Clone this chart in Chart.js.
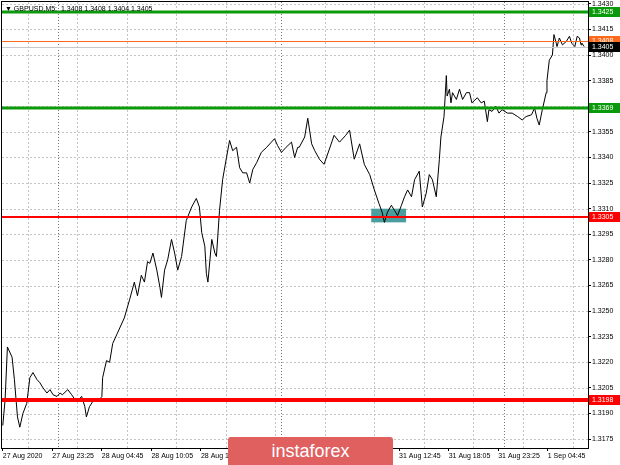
<!DOCTYPE html>
<html>
<head>
<meta charset="utf-8">
<script src="https://cdn.jsdelivr.net/npm/chart.js@4"></script>
<style>
  body { margin: 0; background: #fff; }
  #wrap { position: relative; width: 620px; height: 465px; }
  #logo {
    position: absolute; left: 228px; top: 437px; width: 165px; height: 28px;
    background: #e05f5f; border-radius: 3px 3px 0 0; color: #fff;
    font: 18px "Liberation Sans", sans-serif; text-align: center; line-height: 28px;
  }
</style>
</head>
<body>
<div id="wrap"><canvas id="chart"></canvas><div id="logo">instaforex</div></div>
<script>
// GBPUSD M5, bar index from the first bar on screen and the close
const bars = [0, 3, 6, 12, 15, 19, 22, 26, 31, 35, 39, 44, 48, 52, 57, 61, 65, 70, 74, 77, 84, 89, 95, 102, 106, 108, 112, 119, 123, 128, 129, 134, 138, 142, 148,
  157, 164, 170, 174, 179, 183, 187,
  190, 194, 199, 203, 205, 209, 213, 218, 222, 226, 231, 237, 244, 250, 254, 257, 261, 263, 265, 270, 274, 276, 280, 284, 289, 293, 297, 302, 306, 310, 315, 319, 323, 328, 334, 341, 347, 351, 355, 360, 366, 373, 377, 381,
  383, 390, 394, 399, 403, 409, 415, 422, 428, 435, 443, 448, 454, 461, 467, 474, 480, 486, 490, 493, 497, 502, 506, 510, 515, 519, 523, 528, 532, 538, 542, 547, 551, 555, 560, 564, 566,
  570, 573, 574, 577, 579, 581, 586, 590, 594, 599, 603, 606, 613, 618, 622, 626, 628, 632, 637, 641, 645, 652, 658, 665, 671, 676, 683, 687, 690, 693, 697, 702, 703, 706,
  710, 712, 715, 716, 719, 723, 728, 732, 735, 739, 742, 745, 747, 748, 751];
const closes = [1.3183, 1.3198, 1.3229, 1.3223, 1.3210, 1.3188, 1.3182, 1.3190, 1.3196, 1.3211, 1.3214, 1.3210, 1.3208, 1.3205, 1.3202, 1.3204, 1.3201, 1.3200, 1.3202, 1.3201, 1.3204, 1.3201, 1.3197, 1.3200, 1.3194, 1.3188, 1.3194, 1.3199, 1.3197, 1.3200, 1.3211, 1.3221, 1.3220, 1.3231, 1.3237,
  1.3246, 1.3257, 1.3267, 1.3259, 1.3271, 1.3267, 1.3279,
  1.3278, 1.3284, 1.3274, 1.3264, 1.3258, 1.3274, 1.3280, 1.3292, 1.3284, 1.3274, 1.3282, 1.3303, 1.3311, 1.3316, 1.3311, 1.3296, 1.3288, 1.3272, 1.3267, 1.3292, 1.3284, 1.3282, 1.3309, 1.3327, 1.3340, 1.3350, 1.3344, 1.3346, 1.3334, 1.3331, 1.3331, 1.3325, 1.3333, 1.3337, 1.3343, 1.3346, 1.3349, 1.3351, 1.3347, 1.3343, 1.3346, 1.3349, 1.3340, 1.3346,
  1.3346, 1.3352, 1.3363, 1.3348, 1.3344, 1.3339, 1.3336, 1.3345, 1.3353, 1.3349, 1.3353, 1.3356, 1.3339, 1.3348, 1.3336, 1.3330, 1.3321, 1.3313, 1.3308, 1.3302, 1.3308, 1.3312, 1.3309, 1.3306, 1.3312, 1.3317, 1.3321, 1.3317, 1.3327, 1.3332, 1.3311, 1.3319, 1.3330, 1.3327, 1.3317, 1.3339, 1.3352,
  1.3364, 1.3388, 1.3376, 1.3380, 1.3372, 1.3378, 1.3374, 1.3380, 1.3374, 1.3378, 1.3378, 1.3372, 1.3375, 1.3372, 1.3373, 1.3361, 1.3368, 1.3367, 1.3370, 1.3366, 1.3368, 1.3366, 1.3366, 1.3364, 1.3362, 1.3364, 1.3365, 1.3369, 1.3363, 1.3359, 1.3368, 1.3378, 1.3385, 1.3397,
  1.3400, 1.3412, 1.3407, 1.3405, 1.3410, 1.3406, 1.3408, 1.3411, 1.3407, 1.3405, 1.3411, 1.3410, 1.3406, 1.3407, 1.3405];

const timeTicks = [0, 64, 128, 192, 256, 320, 384, 448, 512, 576, 640, 704];
const timeLabels = ["27 Aug 2020", "27 Aug 23:25", "28 Aug 04:45", "28 Aug 10:05", "28 Aug 15:25", "28 Aug 20:45",
  "31 Aug 02:05", "31 Aug 07:25", "31 Aug 12:45", "31 Aug 18:05", "31 Aug 23:25", "1 Sep 04:45"];
const gridBars = [32, 96, 160, 224, 288, 352, 416, 480, 544, 608, 672, 736];
const daySeparators = [71, 359, 647];
const priceTicks = [1.3175, 1.3190, 1.3205, 1.3220, 1.3235, 1.3250, 1.3265, 1.3280, 1.3295, 1.3310,
  1.3325, 1.3340, 1.3355, 1.3370, 1.3385, 1.3400, 1.3415, 1.3430];

// horizontal levels drawn on the chart
const levelPrices = [1.3425, 1.3369, 1.3305, 1.3198];
const levelKinds = ["green", "green", "red", "redThick"];
const askPrice = 1.3408;
const bidPrice = 1.3405;
// shaded zone around the 31 Aug low
const zoneBars = [476, 521];
const zonePrices = [1.3302, 1.3310];

const header = "\u25BC GBPUSD,M5:  1.3408 1.3408 1.3404 1.3405";

const kindStyle = {
  green: { color: "#0b9a0b", width: 3 },
  red: { color: "#ff0000", width: 2 },
  redThick: { color: "#ff0000", width: 4 }
};
const FONT = '"Liberation Sans", Arial, sans-serif';

function hline(ctx, x0, x1, y) {
  ctx.beginPath(); ctx.moveTo(x0, y); ctx.lineTo(x1, y); ctx.stroke();
}
function vline(ctx, x, y0, y1) {
  ctx.beginPath(); ctx.moveTo(x, y0); ctx.lineTo(x, y1); ctx.stroke();
}
function priceBox(ctx, chart, price, color) {
  const y = Math.round(chart.scales.y.getPixelForValue(price));
  ctx.fillStyle = color;
  ctx.fillRect(chart.chartArea.right + 1, y - 5, 31, 10);
  ctx.fillStyle = "#fff";
  ctx.font = "7px " + FONT;
  ctx.textBaseline = "middle";
  ctx.textAlign = "left";
  ctx.fillText(price.toFixed(4), chart.chartArea.right + 4, y + 0.5);
}
function noPad(s) {
  s.paddingTop = 0; s.paddingBottom = 0; s.paddingLeft = 0; s.paddingRight = 0;
}

const mt4Plugin = {
  id: "mt4",
  beforeDatasetsDraw(chart) {
    const { ctx, chartArea: a, scales: { x, y } } = chart;
    ctx.save();
    ctx.beginPath(); ctx.rect(a.left, a.top, a.right - a.left, a.bottom - a.top); ctx.clip();
    ctx.lineWidth = 1;
    ctx.strokeStyle = "#c4c4c4";
    ctx.setLineDash([2, 2]);
    priceTicks.forEach(v => hline(ctx, a.left, a.right, Math.round(y.getPixelForValue(v)) + 0.5));
    gridBars.forEach(b => vline(ctx, Math.round(x.getPixelForValue(b)) + 0.5, a.top, a.bottom));
    ctx.strokeStyle = "#777";
    ctx.setLineDash([1, 2]);
    daySeparators.forEach(b => vline(ctx, Math.round(x.getPixelForValue(b)) + 0.5, a.top, a.bottom));
    ctx.setLineDash([]);
    // zone
    const zx0 = x.getPixelForValue(zoneBars[0]), zx1 = x.getPixelForValue(zoneBars[1]);
    const zy0 = y.getPixelForValue(zonePrices[1]), zy1 = y.getPixelForValue(zonePrices[0]);
    ctx.fillStyle = "#4a9e9e";
    ctx.fillRect(zx0, zy0, zx1 - zx0, zy1 - zy0);
    ctx.restore();
  },
  afterDatasetsDraw(chart) {
    const { ctx, chartArea: a, scales: { y } } = chart;
    ctx.save();
    ctx.beginPath(); ctx.rect(a.left, a.top, a.right - a.left, a.bottom - a.top); ctx.clip();
    ctx.strokeStyle = "#c8c8c8"; ctx.lineWidth = 1;
    hline(ctx, a.left, a.right, Math.round(y.getPixelForValue(bidPrice)) + 0.5);
    ctx.strokeStyle = "#ff6a1a";
    hline(ctx, a.left, a.right, Math.round(y.getPixelForValue(askPrice)) + 0.5);
    levelPrices.forEach((p, i) => {
      const s = kindStyle[levelKinds[i]];
      ctx.strokeStyle = s.color; ctx.lineWidth = s.width;
      hline(ctx, a.left, a.right, Math.round(y.getPixelForValue(p)));
    });
    ctx.restore();
  },
  afterDraw(chart) {
    const { ctx, chartArea: a } = chart;
    ctx.save();
    ctx.strokeStyle = "#000"; ctx.lineWidth = 1;
    ctx.strokeRect(a.left - 0.5, a.top - 0.5, a.right - a.left + 1, a.bottom - a.top + 1);
    levelPrices.forEach((p, i) => priceBox(ctx, chart, p, kindStyle[levelKinds[i]].color));
    priceBox(ctx, chart, askPrice, "#ff6a1a");
    priceBox(ctx, chart, bidPrice, "#000");
    ctx.fillStyle = "#000";
    ctx.font = "7px " + FONT;
    ctx.textBaseline = "middle";
    ctx.textAlign = "left";
    ctx.fillText(header, a.left + 3, a.top + 7);
    ctx.restore();
  }
};

new Chart(document.getElementById("chart"), {
  type: "line",
  data: {
    datasets: [{
      data: bars.map((b, i) => ({ x: b, y: closes[i] })),
      borderColor: "#000",
      borderWidth: 1,
      pointRadius: 0,
      tension: 0
    }]
  },
  options: {
    responsive: true,
    maintainAspectRatio: false,
    animation: false,
    layout: { padding: { left: 2, top: 2, right: 0, bottom: 0 } },
    plugins: { legend: { display: false }, tooltip: { enabled: false } },
    scales: {
      x: {
        type: "linear", min: -1, max: 756,
        afterBuildTicks: s => { s.ticks = timeTicks.map(v => ({ value: v })); },
        afterFit: s => { s.height = 17; noPad(s); },
        ticks: {
          autoSkip: false, maxRotation: 0, align: "start", padding: 1, color: "#000",
          font: { family: FONT, size: 7 },
          callback: v => timeLabels[timeTicks.indexOf(v)]
        },
        grid: { drawOnChartArea: false, tickLength: 3, color: "#000" },
        border: { color: "#000" }
      },
      y: {
        position: "right", min: 1.31698, max: 1.34311,
        afterBuildTicks: s => { s.ticks = priceTicks.map(v => ({ value: v })); },
        afterFit: s => { s.width = 32; noPad(s); },
        ticks: {
          autoSkip: false, padding: 1, color: "#000",
          font: { family: FONT, size: 7 },
          callback: v => v.toFixed(4)
        },
        grid: { drawOnChartArea: false, tickLength: 3, color: "#000" },
        border: { color: "#000" }
      }
    }
  },
  plugins: [mt4Plugin]
});
</script>
</body>
</html>
